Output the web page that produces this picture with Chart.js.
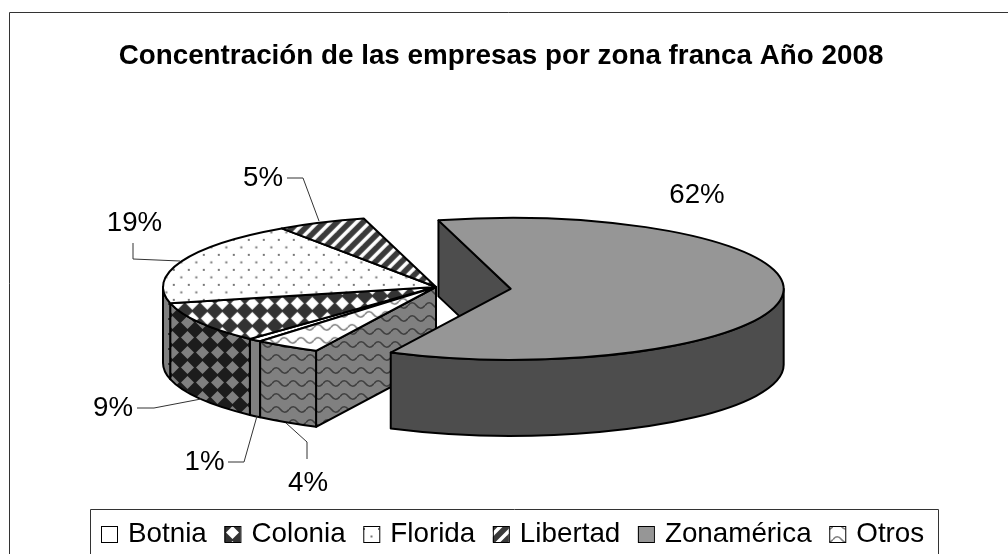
<!DOCTYPE html>
<html>
<head>
<meta charset="utf-8">
<title>Concentración de las empresas</title>
<script src="https://cdn.jsdelivr.net/npm/chart.js@4"></script>
<style>
    html, body { margin: 0; padding: 0; background: #fff; }
    canvas { display: block; }
</style>
</head>
<body>
<canvas id="pieChart" width="1008" height="554"></canvas>
<script>
const chartTitle = "Concentración de las empresas por zona franca Año 2008";
const categories = ["Botnia", "Colonia", "Florida", "Libertad", "Zonamérica", "Otros"];
// the labels only show them rounded
const shares = [0.8, 9.4, 19.1, 5.3, 61.5, 3.9];
const explode = [0, 0, 0, 0, 75, 0];

// where the squashed pie sits on the page
const PIE_X = 436, PIE_Y = 287, RX = 273, RY = 71, DEPTH = 76;
const FONT = '"Liberation Sans", Arial, sans-serif';

// label centre, then the leader line points
const labelSpots = [
    { x: 204.5, y: 462, line: [[228, 462], [244, 462], [257, 416]] },
    { x: 113, y: 408, line: [[137, 408], [154, 408], [201, 399]] },
    { x: 134.5, y: 223, line: [[133, 243], [133, 259], [180, 261]] },
    { x: 263, y: 178, line: [[287, 178], [303, 178], [319, 221]] },
    { x: 697, y: 195, line: [] },
    { x: 308, y: 483, line: [[307, 459], [307, 442], [286, 423]] }
];

function tile(w, h, bg, paint) {
    const c = document.createElement("canvas");
    c.width = w;
    c.height = h;
    const g = c.getContext("2d");
    g.fillStyle = bg;
    g.fillRect(0, 0, w, h);
    paint(g);
    return g.createPattern(c, "repeat");
}

function diamonds(bg, fg) {
    return tile(15, 15, bg, g => {
        g.fillStyle = fg;
        g.beginPath();
        g.moveTo(7.5, 1); g.lineTo(14, 7.5); g.lineTo(7.5, 14); g.lineTo(1, 7.5);
        g.fill();
    });
}

function dots(bg, fg) {
    return tile(15, 15, bg, g => {
        g.fillStyle = fg;
        g.fillRect(3, 3, 2, 2);
        g.fillRect(10.5, 10.5, 2, 2);
    });
}

function stripes(bg, fg) {
    return tile(13, 13, bg, g => {
        g.strokeStyle = fg;
        g.lineWidth = 3.5;
        [-13, 0, 13].forEach(o => {
            g.beginPath();
            g.moveTo(o - 2, 15);
            g.lineTo(o + 15, -2);
            g.stroke();
        });
    });
}

function waves(bg, fg) {
    return tile(17, 13, bg, g => {
        g.strokeStyle = fg;
        g.lineWidth = 1.7;
        g.beginPath();
        g.moveTo(0, 6.5);
        g.quadraticCurveTo(4.25, 1, 8.5, 6.5);
        g.quadraticCurveTo(12.75, 12, 17, 6.5);
        g.stroke();
    });
}

function topFills() {
    return ["#ffffff", diamonds("#333333", "#ffffff"), dots("#ffffff", "#777777"),
        stripes("#3a3a3a", "#ffffff"), "#969696", waves("#ffffff", "#808080")];
}

const faceFills = topFills();
const swatchFills = topFills();
const wallFills = ["#808080", diamonds("#1c1c1c", "#808080"), dots("#808080", "#333333"),
    stripes("#1c1c1c", "#808080"), "#4d4d4d", waves("#808080", "#404040")];

function wedge(arc, i) {
    const mid = (arc.startAngle + arc.endAngle) / 2;
    return {
        x: PIE_X + Math.cos(mid) * explode[i],
        y: PIE_Y + Math.sin(mid) * explode[i] * RY / RX,
        start: arc.startAngle,
        end: arc.endAngle
    };
}

function paintShape(ctx, fill, build) {
    ctx.beginPath();
    build();
    ctx.closePath();
    ctx.fillStyle = fill;
    ctx.fill();
    ctx.stroke();
}

const pie3d = {
    id: "pie3d",
    beforeDatasetDraw(chart) {
        const ctx = chart.ctx;
        const arcs = chart.getDatasetMeta(0).data;
        const n = arcs.length;
        ctx.save();
        ctx.strokeStyle = "#000";
        ctx.lineWidth = 2;
        ctx.lineJoin = "round";
        // the exploded slice goes last so it covers the rest of the pie
        const order = arcs.map((a, i) => i).sort((a, b) => explode[a] - explode[b]);
        order.forEach(i => {
            const w = wedge(arcs[i], i);
            // the cut face is only open next to an exploded slice
            if (explode[i] > 0 || explode[(i + n - 1) % n] > 0) {
                const rimX = w.x + RX * Math.cos(w.start);
                const rimY = w.y + RY * Math.sin(w.start);
                paintShape(ctx, wallFills[i], () => {
                    ctx.moveTo(w.x, w.y);
                    ctx.lineTo(rimX, rimY);
                    ctx.lineTo(rimX, rimY + DEPTH);
                    ctx.lineTo(w.x, w.y + DEPTH);
                });
            }
            for (let k = -1; k <= 2; k++) {
                const lo = Math.max(w.start, 2 * Math.PI * k);
                const hi = Math.min(w.end, 2 * Math.PI * k + Math.PI);
                if (hi <= lo) continue;
                paintShape(ctx, wallFills[i], () => {
                    ctx.ellipse(w.x, w.y, RX, RY, 0, lo, hi);
                    ctx.ellipse(w.x, w.y + DEPTH, RX, RY, 0, hi, lo, true);
                });
            }
        });

        // tops: the library's own arcs, squashed and moved into place
        const sx = RX / arcs[0].outerRadius, sy = RY / arcs[0].outerRadius;
        faceFills.forEach(f => {
            if (typeof f !== "string") f.setTransform(new DOMMatrix().scale(1 / sx, 1 / sy));
        });
        arcs.forEach((arc, i) => {
            const w = wedge(arc, i);
            ctx.save();
            ctx.translate(w.x, w.y);
            ctx.scale(sx, sy);
            ctx.translate(-arc.x, -arc.y);
            arc.draw(ctx);
            ctx.restore();
            ctx.beginPath();
            ctx.moveTo(w.x, w.y);
            ctx.ellipse(w.x, w.y, RX, RY, 0, w.start, w.end);
            ctx.closePath();
            ctx.stroke();
        });
        ctx.restore();
        return false;
    },
    afterDraw(chart) {
        const ctx = chart.ctx;
        ctx.save();
        // outer frame, cut off by the picture at right and bottom
        ctx.strokeStyle = "#333";
        ctx.lineWidth = 1;
        ctx.beginPath();
        ctx.moveTo(1008, 12.5);
        ctx.lineTo(9.5, 12.5);
        ctx.lineTo(9.5, 554);
        ctx.stroke();

        // percent labels with leader lines
        ctx.font = "27.7px " + FONT;
        ctx.textAlign = "center";
        ctx.textBaseline = "middle";
        ctx.fillStyle = "#000";
        shares.forEach((v, i) => {
            const s = labelSpots[i];
            ctx.fillText(Math.round(v) + "%", s.x, s.y);
            if (!s.line.length) return;
            ctx.beginPath();
            s.line.forEach((p, j) => j ? ctx.lineTo(p[0], p[1]) : ctx.moveTo(p[0], p[1]));
            ctx.stroke();
        });

        // legend box
        ctx.beginPath();
        ctx.moveTo(90.5, 554);
        ctx.lineTo(90.5, 509.5);
        ctx.lineTo(938.5, 509.5);
        ctx.lineTo(938.5, 554);
        ctx.stroke();

        ctx.textAlign = "left";
        ctx.font = "27.8px " + FONT;
        let x = 101;
        categories.forEach((name, i) => {
            ctx.fillStyle = swatchFills[i];
            ctx.fillRect(x, 526, 16, 16);
            ctx.strokeStyle = "#000";
            ctx.strokeRect(x + 0.5, 526.5, 16, 16);
            ctx.fillStyle = "#000";
            ctx.fillText(name, x + 27, 534);
            x += 27 + ctx.measureText(name).width + 17.6;
        });
        ctx.restore();
    }
};

new Chart(document.getElementById("pieChart").getContext("2d"), {
    type: "pie",
    data: {
        labels: categories,
        datasets: [{
            data: shares,
            backgroundColor: faceFills,
            borderWidth: 0,
            hoverOffset: 0,
            clip: false
        }]
    },
    options: {
        responsive: false,
        animation: false,
        rotation: 220.1,
        layout: { padding: { right: 6 } },
        plugins: {
            legend: { display: false },
            tooltip: { enabled: false },
            title: {
                display: true,
                text: chartTitle,
                color: "#000",
                font: { family: FONT, size: 27.8, weight: "bold" },
                padding: { top: 40, bottom: 10 }
            }
        }
    },
    plugins: [pie3d]
});
</script>
</body>
</html>
